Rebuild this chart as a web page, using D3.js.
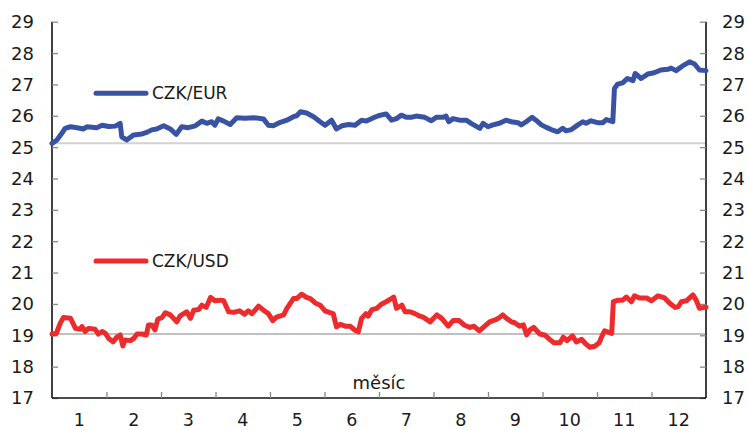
<!DOCTYPE html>
<html>
<head>
<meta charset="utf-8">
<script src="https://cdn.jsdelivr.net/npm/d3@7"></script>
<style>
  body { margin: 0; background: #fff; }
  text { font-family: "DejaVu Sans", sans-serif; fill: #1a1a1a; }
</style>
</head>
<body>
<svg id="chart"></svg>
<script>
// month labels and y ticks
var months = ["1", "2", "3", "4", "5", "6", "7", "8", "9", "10", "11", "12"];
var yTicks = [17, 18, 19, 20, 21, 22, 23, 24, 25, 26, 27, 28, 29];

// CZK/EUR, position in months (0..12) and rate
var eurT = [0.00, 0.09, 0.18, 0.24, 0.34, 0.46, 0.58, 0.64, 0.82, 0.92, 1.04, 1.16, 1.25, 1.28, 1.37, 1.50, 1.65, 1.74, 1.83, 1.92,
    2.05, 2.17, 2.28, 2.38, 2.50, 2.63, 2.75, 2.84, 2.93, 2.99, 3.05, 3.15, 3.27, 3.39, 3.54, 3.70, 3.79, 3.88, 3.97, 4.06,
    4.19, 4.31, 4.43, 4.49, 4.56, 4.67, 4.80, 4.92, 5.01, 5.13, 5.22, 5.32, 5.44, 5.56, 5.68, 5.77, 5.90, 5.99, 6.13, 6.23,
    6.32, 6.41, 6.50, 6.59, 6.68, 6.84, 6.96, 7.05, 7.17, 7.23, 7.28, 7.36, 7.48, 7.60, 7.69, 7.85, 7.91, 8.00, 8.09, 8.21,
    8.33, 8.43, 8.55, 8.61, 8.70, 8.81, 8.88, 8.98, 9.07, 9.16, 9.28, 9.37, 9.43, 9.53, 9.65, 9.74, 9.80, 9.89, 10.01, 10.11,
    10.17, 10.29, 10.32, 10.38, 10.47, 10.56, 10.66, 10.70, 10.81, 10.93, 11.05, 11.17, 11.30, 11.36, 11.45, 11.57, 11.70, 11.79, 11.88, 12.00];
var eurV = [25.12, 25.23, 25.44, 25.60, 25.65, 25.62, 25.58, 25.65, 25.62, 25.70, 25.66, 25.67, 25.76, 25.33, 25.23, 25.39, 25.42, 25.47, 25.55, 25.58,
    25.68, 25.58, 25.41, 25.65, 25.62, 25.68, 25.83, 25.76, 25.81, 25.70, 25.90, 25.83, 25.72, 25.94, 25.92, 25.94, 25.92, 25.90, 25.70, 25.68,
    25.79, 25.86, 25.97, 26.00, 26.13, 26.09, 25.97, 25.81, 25.70, 25.86, 25.58, 25.68, 25.72, 25.70, 25.86, 25.83, 25.94, 26.00, 26.06, 25.86,
    25.91, 26.02, 25.95, 25.95, 25.99, 25.95, 25.84, 25.95, 25.95, 25.99, 25.81, 25.91, 25.86, 25.86, 25.76, 25.60, 25.76, 25.65, 25.71, 25.76,
    25.86, 25.81, 25.78, 25.71, 25.81, 25.95, 25.86, 25.71, 25.63, 25.56, 25.49, 25.60, 25.52, 25.56, 25.71, 25.81, 25.76, 25.84, 25.78, 25.78,
    25.88, 25.81, 26.87, 27.01, 27.05, 27.19, 27.12, 27.35, 27.19, 27.33, 27.37, 27.46, 27.48, 27.52, 27.44, 27.59, 27.72, 27.65, 27.46, 27.44];

// CZK/USD
var usdT = [0.00, 0.08, 0.15, 0.21, 0.34, 0.43, 0.52, 0.55, 0.61, 0.67, 0.79, 0.85, 0.92, 0.98, 1.04, 1.12, 1.19, 1.25, 1.30, 1.34,
    1.44, 1.50, 1.56, 1.65, 1.73, 1.77, 1.83, 1.89, 1.94, 2.02, 2.08, 2.17, 2.29, 2.35, 2.47, 2.54, 2.60, 2.69, 2.75, 2.83,
    2.91, 2.99, 3.09, 3.15, 3.24, 3.33, 3.44, 3.53, 3.60, 3.67, 3.79, 3.88, 3.97, 4.05, 4.12, 4.25, 4.31, 4.43, 4.49, 4.58,
    4.67, 4.74, 4.83, 4.92, 5.01, 5.10, 5.16, 5.22, 5.29, 5.38, 5.47, 5.56, 5.62, 5.68, 5.76, 5.80, 5.87, 5.96, 6.05, 6.13,
    6.20, 6.27, 6.32, 6.42, 6.48, 6.57, 6.66, 6.75, 6.81, 6.94, 7.06, 7.15, 7.27, 7.36, 7.47, 7.56, 7.67, 7.74, 7.84, 7.94,
    8.03, 8.13, 8.19, 8.27, 8.34, 8.43, 8.49, 8.58, 8.65, 8.71, 8.77, 8.84, 8.95, 9.04, 9.13, 9.21, 9.32, 9.38, 9.45, 9.55,
    9.62, 9.72, 9.79, 9.87, 9.96, 10.04, 10.10, 10.14, 10.27, 10.30, 10.39, 10.47, 10.54, 10.63, 10.69, 10.78, 10.91, 11.00, 11.12, 11.24,
    11.33, 11.43, 11.49, 11.55, 11.64, 11.76, 11.82, 11.88, 11.97, 12.00];
var usdV = [19.04, 19.06, 19.38, 19.57, 19.54, 19.22, 19.19, 19.28, 19.12, 19.22, 19.19, 19.04, 19.12, 19.06, 18.90, 18.79, 18.94, 19.01, 18.66, 18.85,
    18.83, 18.90, 19.04, 19.04, 19.01, 19.33, 19.33, 19.17, 19.51, 19.57, 19.72, 19.65, 19.43, 19.62, 19.75, 19.54, 19.80, 19.82, 19.96, 19.89,
    20.21, 20.10, 20.12, 20.10, 19.75, 19.73, 19.78, 19.67, 19.78, 19.69, 19.93, 19.80, 19.69, 19.47, 19.58, 19.65, 19.86, 20.17, 20.17, 20.31,
    20.21, 20.17, 20.03, 19.96, 19.78, 19.72, 19.69, 19.27, 19.35, 19.29, 19.29, 19.16, 19.11, 19.54, 19.69, 19.61, 19.82, 19.86, 20.00, 20.07,
    20.14, 20.22, 19.86, 19.96, 19.75, 19.75, 19.69, 19.61, 19.58, 19.43, 19.65, 19.54, 19.29, 19.47, 19.47, 19.33, 19.25, 19.29, 19.14, 19.29,
    19.43, 19.49, 19.54, 19.65, 19.54, 19.43, 19.40, 19.29, 19.33, 19.01, 19.17, 19.25, 19.04, 19.01, 18.87, 18.76, 18.76, 18.94, 18.83, 18.98,
    18.79, 18.87, 18.73, 18.62, 18.65, 18.76, 19.01, 19.14, 19.06, 20.07, 20.12, 20.12, 20.22, 20.07, 20.26, 20.19, 20.19, 20.10, 20.26, 20.19,
    20.03, 19.89, 19.91, 20.07, 20.10, 20.29, 20.12, 19.86, 19.89, 19.89];

var seriesNames = ["CZK/EUR", "CZK/USD"];
var seriesColors = ["#3953a4", "#ee2b2c"];

function draw() {
    var width = 748, height = 430;
    var x0 = 52, x1 = 706, yTop = 21.7, yBottom = 398;

    var svg = d3.select("#chart").attr("width", width).attr("height", height);

    var x = d3.scaleLinear().domain([0, 12]).range([x0, x1]);
    var y = d3.scaleLinear().domain([17, 29]).range([yBottom, yTop]);

    // reference lines at the first value of each series
    var refs = [eurV[0], usdV[0]];
    var refColors = ["#d2d2d2", "#ababab"];
    svg.selectAll(".ref").data(refs).enter().append("line")
        .attr("class", "ref")
        .attr("x1", x0).attr("x2", x1)
        .attr("y1", function (d) { return y(d); })
        .attr("y2", function (d) { return y(d); })
        .attr("stroke", function (d, i) { return refColors[i]; })
        .attr("stroke-width", function (d, i) { return i == 0 ? 2 : 1.5; });

    // axes, ticks pointing inwards
    var yLeft = svg.append("g").attr("transform", "translate(" + x0 + ",0)")
        .call(d3.axisRight(y).tickValues(yTicks).tickSize(6).tickFormat(""));
    var yRight = svg.append("g").attr("transform", "translate(" + x1 + ",0)")
        .call(d3.axisLeft(y).tickValues(yTicks).tickSize(6).tickFormat(""));
    var xAxis = svg.append("g").attr("transform", "translate(0," + yBottom + ")")
        .call(d3.axisTop(x).tickValues(d3.range(1, 12)).tickSize(6).tickFormat(""));

    [yLeft, yRight, xAxis].forEach(function (g) {
        g.select(".domain").attr("stroke", "#111").attr("stroke-width", 1.6);
        g.selectAll(".tick line").attr("stroke", "#888").attr("stroke-width", 1.3);
    });
    yLeft.select(".domain").attr("d", "M0," + yBottom + "V" + yTop);
    yRight.select(".domain").attr("d", "M0," + yBottom + "V" + yTop);
    xAxis.select(".domain").attr("d", "M" + x0 + ",0H" + x1);

    // tick labels
    svg.selectAll(".ylab-l").data(yTicks).enter().append("text")
        .attr("x", 34).attr("y", function (d) { return y(d); })
        .attr("dy", "0.36em").attr("text-anchor", "end")
        .style("font-size", "18px").text(function (d) { return d; });
    svg.selectAll(".ylab-r").data(yTicks).enter().append("text")
        .attr("x", 722).attr("y", function (d) { return y(d); })
        .attr("dy", "0.36em").attr("text-anchor", "start")
        .style("font-size", "18px").text(function (d) { return d; });
    svg.selectAll(".mlab").data(months).enter().append("text")
        .attr("x", function (d, i) { return x(i + 0.5); }).attr("y", 426)
        .attr("text-anchor", "middle")
        .style("font-size", "17.5px").text(function (d) { return d; });

    svg.append("text")
        .attr("x", (x0 + x1) / 2).attr("y", 389)
        .attr("text-anchor", "middle")
        .style("font-size", "18px").text("měsíc");

    // lines
    var line = d3.line()
        .x(function (d) { return x(d[0]); })
        .y(function (d) { return y(d[1]); });

    var series = [d3.zip(eurT, eurV), d3.zip(usdT, usdV)];
    svg.selectAll(".series").data(series).enter().append("path")
        .attr("class", "series")
        .attr("d", line)
        .attr("fill", "none")
        .attr("stroke", function (d, i) { return seriesColors[i]; })
        .attr("stroke-width", 5)
        .attr("stroke-linejoin", "round")
        .attr("stroke-linecap", "round");

    // legend
    var legendY = [93.3, 261];
    var legend = svg.selectAll(".legend").data(seriesNames).enter().append("g")
        .attr("class", "legend")
        .attr("transform", function (d, i) { return "translate(0," + legendY[i] + ")"; });
    legend.append("line")
        .attr("x1", 96).attr("x2", 146)
        .attr("stroke", function (d, i) { return seriesColors[i]; })
        .attr("stroke-width", 5)
        .attr("stroke-linecap", "round");
    legend.append("text")
        .attr("x", 152).attr("dy", "0.36em")
        .style("font-size", "17px")
        .text(function (d) { return d; });
}

draw();
</script>
</body>
</html>
